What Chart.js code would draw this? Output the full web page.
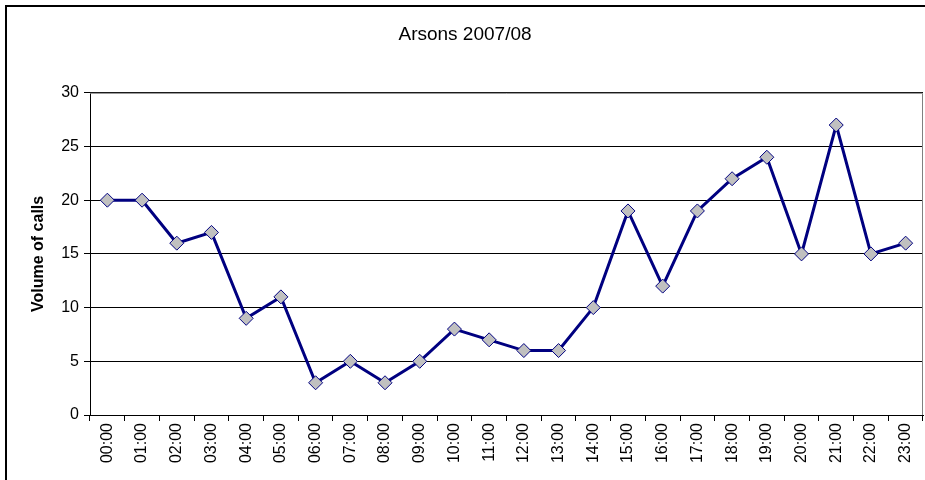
<!DOCTYPE html>
<html>
<head>
<meta charset="utf-8">
<script src="https://cdn.jsdelivr.net/npm/chart.js@4"></script>
<style>
  html, body { margin: 0; padding: 0; background: #fff; overflow: hidden; }
  #frame {
    position: absolute; left: 5px; top: 5px;
    border-left: 2px solid #000; border-top: 2px solid #000;
    width: 928px; height: 490px;
  }
</style>
</head>
<body>
<div id="frame"><canvas id="arsonChart" width="928" height="490"></canvas></div>
<script>
const hours = ['00:00', '01:00', '02:00', '03:00', '04:00', '05:00', '06:00', '07:00',
    '08:00', '09:00', '10:00', '11:00', '12:00', '13:00', '14:00', '15:00',
    '16:00', '17:00', '18:00', '19:00', '20:00', '21:00', '22:00', '23:00'];
const calls = [20, 20, 16, 17, 9, 11, 3, 5, 3, 5, 8, 7, 6, 6, 10, 19, 12, 19, 22, 24, 15, 27, 15, 16];
const yTicks = [0, 5, 10, 15, 20, 25, 30];

const fontFamily = "'Liberation Sans', Arial, sans-serif";

// gray frame on the top and right of the plot area
const plotFrame = {
    id: 'plotFrame',
    beforeDatasetsDraw(chart) {
        const { ctx, chartArea: a } = chart;
        ctx.save();
        ctx.strokeStyle = '#808080';
        ctx.lineWidth = 1;
        ctx.beginPath();
        ctx.moveTo(a.left, a.top + 0.5);
        ctx.lineTo(a.right - 0.5, a.top + 0.5);
        ctx.lineTo(a.right - 0.5, a.bottom);
        ctx.stroke();
        ctx.restore();
    }
};

const ctx = document.getElementById('arsonChart').getContext('2d');

new Chart(ctx, {
    type: 'line',
    data: {
        labels: hours,
        datasets: [{
            label: 'Arsons',
            data: calls,
            borderColor: '#000080',
            borderWidth: 3,
            tension: 0,
            pointStyle: 'rectRot',
            pointRadius: 7,
            pointBackgroundColor: '#c0c0c0',
            pointBorderColor: '#000080',
            pointBorderWidth: 1
        }]
    },
    options: {
        responsive: false,
        animation: false,
        layout: { padding: { left: 0, right: 12, top: 0, bottom: 0 } },
        plugins: {
            legend: { display: false },
            tooltip: { enabled: false },
            title: {
                display: true,
                text: 'Arsons 2007/08',
                color: '#000',
                font: { family: fontFamily, size: 19, weight: 'normal' },
                padding: { top: 16, bottom: 47 }
            }
        },
        scales: {
            x: {
                offset: true,
                grid: { offset: true, drawOnChartArea: false, drawTicks: true, tickLength: 6, color: '#000' },
                border: { color: '#000', width: 1 },
                ticks: {
                    color: '#000',
                    font: { family: fontFamily, size: 16 },
                    minRotation: 90,
                    maxRotation: 90,
                    padding: 2,
                    autoSkip: false
                },
                afterFit(scale) { scale.height = 82; }
            },
            y: {
                min: 0,
                max: 30,
                afterBuildTicks(scale) { scale.ticks = yTicks.map(v => ({ value: v })); },
                grid: { color: '#000', lineWidth: 1, tickLength: 6 },
                border: { color: '#000', width: 1 },
                ticks: {
                    color: '#000',
                    font: { family: fontFamily, size: 16 },
                    padding: 5
                },
                title: {
                    display: true,
                    text: 'Volume of calls',
                    color: '#000',
                    font: { family: fontFamily, size: 16, weight: 'bold' },
                    padding: { top: 22, bottom: 0 }
                },
                afterFit(scale) { scale.width = 83; }
            }
        }
    },
    plugins: [plotFrame]
});
</script>
</body>
</html>
